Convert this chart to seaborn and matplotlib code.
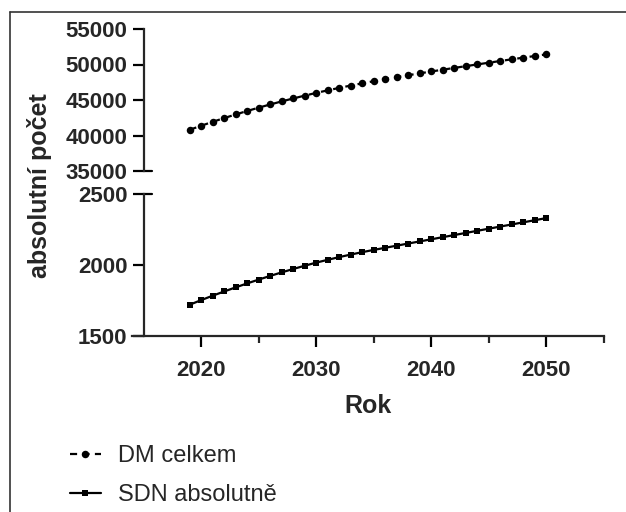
import numpy as np
import pandas as pd
import matplotlib
matplotlib.use("Agg")
import matplotlib.pyplot as plt
from matplotlib.lines import Line2D
import seaborn as sns

years = list(range(2019, 2051))
dm_celkem = [40800, 41370, 41920, 42450, 42960, 43450, 43920, 44370, 44800, 45215,
             45615, 46000, 46360, 46705, 47035, 47350, 47650, 47940, 48220, 48490,
             48755, 49015, 49270, 49520, 49768, 50013, 50255, 50495, 50732, 50967,
             51199, 51429]
sdn_absolutne = [1717, 1750, 1781, 1811, 1840, 1868, 1895, 1921, 1946, 1970,
                 1993, 2015, 2035, 2054, 2072, 2089, 2105, 2120, 2135, 2150,
                 2165, 2180, 2195, 2210, 2225, 2240, 2255, 2270, 2285, 2300,
                 2315, 2330]

df = pd.DataFrame({"Rok": years, "DM celkem": dm_celkem, "SDN absolutně": sdn_absolutne})

sns.set_style("ticks")
plt.rcParams['font.family'] = ['Liberation Sans', 'DejaVu Sans']
plt.rcParams['font.weight'] = 'bold'

fig = plt.figure(figsize=(6.26, 5.12), dpi=100)
W, H = 626, 512
left, right = 132 / W, 604 / W
ax_top = fig.add_axes([left, 1 - 171 / H, right - left, (171 - 29) / H])
ax_bot = fig.add_axes([left, 1 - 335.5 / H, right - left, (335.5 - 194) / H])

lw = 1.6
sns.lineplot(data=df, x="Rok", y="DM celkem", ax=ax_top, color="black", lw=lw,
             marker="o", markersize=5.4, markeredgewidth=0, dashes=False,
             label="DM celkem", legend=False)
ax_top.lines[0].set_dashes((3.2, 2.4))
sns.lineplot(data=df, x="Rok", y="SDN absolutně", ax=ax_bot, color="black", lw=lw,
             marker="s", markersize=4.6, markeredgewidth=0,
             label="SDN absolutně", legend=False)

for ax in (ax_top, ax_bot):
    ax.set_xlim(2014, 2055)
    ax.spines['left'].set_position(('data', 2015))
    ax.spines['right'].set_visible(False)
    ax.spines['top'].set_visible(False)
    for s in ax.spines.values():
        s.set_linewidth(lw)
    ax.tick_params(axis='both', width=lw, length=8, labelsize=16, color='black')
    ax.set_xlabel("")
    ax.set_ylabel("")
    ax.set_facecolor('none')

ax_top.set_ylim(35000, 55000)
ax_top.set_yticks([35000, 40000, 45000, 50000, 55000])
ax_top.spines['bottom'].set_visible(False)
ax_top.tick_params(axis='x', bottom=False, labelbottom=False)
ax_top.plot([2015, 2015.75], [35000, 35000], color='black', lw=lw, clip_on=False)

ax_bot.set_ylim(1500, 2500)
ax_bot.set_yticks([1500, 2000, 2500])
ax_bot.plot([2015, 2015.75], [2500, 2500], color='black', lw=lw, clip_on=False)
ax_bot.set_xticks([2020, 2030, 2040, 2050])
ax_bot.set_xticks([2025, 2035, 2045, 2055], minor=True)
ax_bot.tick_params(axis='x', which='minor', length=5, width=lw)
ax_bot.tick_params(axis='x', which='major', pad=10)
ax_bot.set_xlabel("Rok", fontsize=18, fontweight='bold', labelpad=9)

fig.text(40 / W, 1 - 186 / H, "absolutní počet", rotation=90, ha='center', va='center',
         fontsize=18, fontweight='bold')

handles = [ax_top.lines[0], ax_bot.lines[0]]
fig.legend(handles=handles, labels=["DM celkem", "SDN absolutně"], loc='upper left',
           bbox_to_anchor=(70 / W, 1 - 445 / H), frameon=False, borderpad=0,
           borderaxespad=0, handlelength=1.3, handletextpad=0.75, labelspacing=0.72,
           prop={'size': 17, 'weight': 'normal'})

# frame lines at top and left of the image
fig.add_artist(Line2D([10 / W, 10 / W], [0, 1 - 12 / H], color='#333333', lw=1.2))
fig.add_artist(Line2D([10 / W, 1], [1 - 12 / H, 1 - 12 / H], color='#333333', lw=1.2))

fig.savefig("out.png", dpi=100)
